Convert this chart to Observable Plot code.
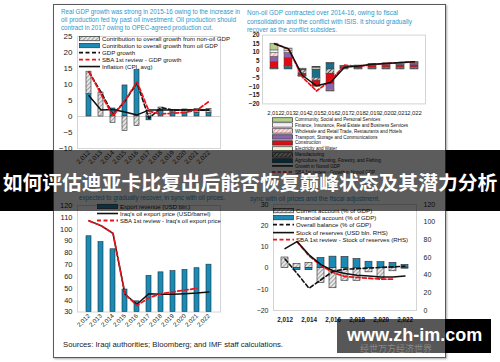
<!DOCTYPE html>
<html><head><meta charset="utf-8">
<script src="https://cdn.jsdelivr.net/npm/d3@7"></script>
<script src="https://cdn.jsdelivr.net/npm/@observablehq/plot@0.6"></script>
<style>
html,body{margin:0;padding:0;background:#fff;}
body{width:500px;height:362px;overflow:hidden;position:relative;font-family:"Liberation Sans",Arial,sans-serif;}
.t{position:absolute;white-space:nowrap;transform-origin:0 50%;color:#2f97c9;font-size:7px;line-height:8px;}
.lg{position:absolute;white-space:nowrap;display:flex;align-items:center;color:#111;}
.lg svg{flex:none;margin-right:2px;}
svg.plot{overflow:visible;background:transparent;}
</style></head>
<body>
<svg width="0" height="0" style="position:absolute">
<defs>
<pattern id="hatchGray" width="3" height="3" patternUnits="userSpaceOnUse" patternTransform="rotate(45)">
<rect width="3" height="3" fill="#e6e6e6"/><line x1="0" y1="0" x2="0" y2="3" stroke="#7a7a7a" stroke-width="1.3"/></pattern>
<pattern id="hatchPink" width="3" height="3" patternUnits="userSpaceOnUse" patternTransform="rotate(45)">
<rect width="3" height="3" fill="#fbe3e8"/><line x1="0" y1="0" x2="0" y2="3" stroke="#e46f86" stroke-width="1.2"/></pattern>
<pattern id="hatchDark" width="3" height="3" patternUnits="userSpaceOnUse" patternTransform="rotate(45)">
<rect width="3" height="3" fill="#cfcfcf"/><line x1="0" y1="0" x2="0" y2="3" stroke="#222" stroke-width="1.4"/></pattern>
</defs></svg>
<div id="root"></div>
<script>
// ---------- data ----------
const years = [2012, 2013, 2014, 2015, 2016, 2017, 2018, 2019, 2020, 2021, 2022];

// Panel 1: real GDP growth (percent)
const oilContrib    = [7.0, 0.0, 2.5, 9.7, 14.5, -1.2, 2.0, 1.3, 1.2, 1.2, 1.1];
const nonOilContrib = [7.0, 7.5, -2.0, -4.5, -3.0, 0.8, 0.8, 0.8, 1.0, 1.1, 1.3];
const gdpGrowth     = [13.9, 7.6, 0.7, 4.8, 10.5, -0.6, 2.8, 2.0, 2.0, 2.0, 2.0];
const sbaGdpGrowth  = [14.0, 7.0, 0.2, 5.0, 10.8, 1.6, 0.8, 1.0, 1.3, 2.0, 4.7];
const inflation     = [6.5, 2.0, 2.2, 1.4, 0.5, 2.0, 2.0, 2.0, 2.0, 2.0, 2.0];

// Panel 2: non-oil GDP growth contributions by sector
const sectorNames = [
  "Agriculture, Hunting, Forestry, and Fishing",
  "Manufacturing",
  "Electricity and Water",
  "Construction",
  "Transport, Storage and Communications",
  "Wholesale and Retail Trade, Restaurants and Hotels",
  "Finance, Insurance, Real Estate and Business Services",
  "Community, Social and Personal Services"
];
const agriculture   = [0.3, 1.5, -0.5, -5.0, 3.5, 0.4, 0.3, 0.4, 0.4, 0.4, 0.4];
const manufacturing = [0.3, 0.3, -2.0, -1.5, -2.5, 0.3, 0.3, 0.4, 0.5, 0.5, 0.5];
const electricity   = [0.2, 0.3, 0.3, 1.0, -0.3, 0.2, 0.2, 0.3, 0.3, 0.3, 0.3];
const construction  = [3.5, 4.5, -1.0, -3.0, -5.5, 0.5, 0.6, 0.8, 0.9, 1.0, 1.1];
const transport     = [3.0, 3.0, -0.3, -0.3, -3.5, 0.3, 0.3, 0.4, 0.5, 0.6, 0.7];
const wholesale     = [2.2, 1.4, -0.2, 0.3, -0.8, 0.2, 0.2, 0.3, 0.4, 0.4, 0.5];
const finance       = [1.6, 0.8, 0.2, 0.2, 0.2, 0.2, 0.3, 0.3, 0.4, 0.4, 0.5];
const community     = [3.9, 0.4, -0.3, -0.3, -0.2, 0.1, 0.1, 0.2, 0.2, 0.3, 0.4];
const nonOilGrowth    = [15.0, 12.0, -3.5, -9.5, -7.5, 1.3, 2.0, 3.0, 3.5, 4.0, 4.5];
const sbaNonOilGrowth = [15.0, 12.0, -4.5, -12.5, -6.5, 2.5, 1.8, 2.8, 3.5, 4.0, 4.5];

// Panel 3: exports
const exportRevenue = [94, 89, 83, 49, 39, 60.5, 63.5, 64.5, 65.5, 67, 70];
const oilPrice      = [107, 103, 96.5, 45, 36.5, 45.5, 45, 45, 45.5, 46, 47];
const sbaOilPrice   = [107, 103, 96.5, 45, 35.5, 42, 45.5, 47, 48.5, 50, null];

// Panel 4: external sector
const currentAccount   = [5.0, 2.0, 2.5, -7.0, -9.5, -6.0, -6.0, -2.0, -5.0, -1.5, -0.3];
const financialAccount = [0.0, -1.0, -1.0, 4.8, 5.4, 5.3, 4.3, 3.0, 2.8, 2.5, 1.5];
const overallBalance   = [4.3, -2.5, -9.5, -5.5, -1.5, -0.5, -0.3, 0.0, 0.3, 0.6, 0.9];
const reserves         = [70, 78, 63, 52, 45, 42, 40, 39, 38, 38, 39];
const sbaReserves      = [null, 78, 62, 51, 43, 38.5, 37.5, 36.5, 35.5, 35.5, null];

// ---------- helpers ----------
const root = document.getElementById("root");
function place(el, left, top, z) {
  el.style.position = "absolute"; el.style.left = left + "px"; el.style.top = top + "px";
  if (z) el.style.zIndex = z;
  root.appendChild(el); return el;
}
function textLine(str, left, cy, targetW, opts = {}) {
  const d = document.createElement("div");
  d.className = "t"; d.textContent = str;
  if (opts.color) d.style.color = opts.color;
  if (opts.size) d.style.fontSize = opts.size + "px";
  d.style.lineHeight = "8px";
  place(d, left, cy - 4, opts.z);
  if (targetW) { const w = d.getBoundingClientRect().width; d.style.transform = `scaleX(${targetW / w})`; }
  return d;
}
function swatch(it, w, h) {
  let s = `<svg width="${w}" height="${h}">`;
  if (it.kind === "rect") s += `<rect x="0.5" y="${h/2 - 2.2}" width="${w-1}" height="4.4" fill="${it.fill}" stroke="${it.stroke || '#333'}" stroke-width="0.7"/>`;
  else s += `<line x1="0" x2="${w}" y1="${h/2}" y2="${h/2}" stroke="${it.stroke}" stroke-width="${it.width || 1.6}" ${it.dash ? `stroke-dasharray="${it.dash}"` : ""}/>`;
  return s + "</svg>";
}
function legend(items, left, cy0, rowH, fontSize) {
  items.forEach((it, i) => {
    const d = document.createElement("div");
    d.className = "lg"; d.style.fontSize = fontSize + "px"; d.style.height = rowH + "px";
    d.innerHTML = swatch(it, 21, rowH) + `<span>${it.label}</span>`;
    place(d, left, cy0 + i * rowH - rowH / 2);
  });
}
const baseStyle = (fs) => ({fontFamily: "Liberation Sans, Arial, sans-serif", fontSize: fs + "px", color: "#222", background: "transparent", overflow: "visible"});

// ---------- Panel 1 ----------
const p1bars = years.flatMap((year, i) => [
  {year, part: "oil", value: oilContrib[i]},
  {year, part: "nonoil", value: nonOilContrib[i]}
]);
const p1 = years.map((year, i) => ({year, gdp: gdpGrowth[i], sba: sbaGdpGrowth[i], cpi: inflation[i]}));
const plot1 = Plot.plot({
  width: 185, height: 148, marginLeft: 24, marginRight: 18, marginTop: 6, marginBottom: 30,
  style: baseStyle(8),
  x: {type: "band", domain: years, padding: 0.55, label: null},
  y: {domain: [-10, 25], label: null},
  color: {type: "ordinal", domain: ["oil", "nonoil"], range: ["#1b8ab4", "url(#hatchGray)"]},
  marks: [
    Plot.frame({stroke: "#d4d4d4"}),
    Plot.ruleY([0], {stroke: "#cfcfcf"}),
    Plot.barY(p1bars, {x: "year", y: "value", fill: "part", stroke: "#2a2a2a", strokeWidth: 0.6}),
    Plot.lineY(p1, {x: "year", y: "cpi", stroke: "#111", strokeWidth: 1.5}),
    Plot.lineY(p1, {x: "year", y: "gdp", stroke: "#111", strokeWidth: 1.6, strokeDasharray: "4,2.5"}),
    Plot.lineY(p1, {x: "year", y: "sba", stroke: "#e8141c", strokeWidth: 1.8, strokeDasharray: "4,2.5"}),
    Plot.axisY({ticks: [-10, -5, 0, 5, 10, 15, 20, 25], tickSize: 0, tickPadding: 5, fontSize: 8, label: null}),
    Plot.axisX({tickRotate: -45, tickSize: 0, tickPadding: 3, fontSize: 6.5, label: null})
  ]
});
place(plot1, 53, 30);

// ---------- Panel 2 ----------
const sectorValues = [agriculture, manufacturing, electricity, construction, transport, wholesale, finance, community];
const sectorColors = ["#1d6e88", "url(#hatchDark)", "#eef3d6", "#e00b12", "#8b62ad", "url(#hatchPink)", "#f6eef4", "#b3cf8c"];
const p2bars = years.flatMap((year, i) => sectorNames.map((s, k) => ({year, sector: s, value: sectorValues[k][i]})));
const p2 = years.map((year, i) => ({year, g: nonOilGrowth[i], sba: sbaNonOilGrowth[i]}));
const plot2 = Plot.plot({
  width: 185, height: 92, marginLeft: 17, marginRight: 5, marginTop: 6.6, marginBottom: 16.6,
  style: baseStyle(6),
  x: {type: "band", domain: years, padding: 0.45, label: null},
  y: {domain: [-20, 20], label: null},
  color: {type: "ordinal", domain: sectorNames, range: sectorColors},
  marks: [
    Plot.frame({stroke: "#d4d4d4"}),
    Plot.barY(p2bars, {x: "year", y: "value", fill: "sector", stroke: "#444", strokeWidth: 0.5}),
    Plot.lineY(p2, {x: "year", y: "sba", stroke: "#e8141c", strokeWidth: 1.7, strokeDasharray: "3.5,2"}),
    Plot.lineY(p2, {x: "year", y: "g", stroke: "#111", strokeWidth: 1.5}),
    Plot.axisY({ticks: [-20, -15, -10, -5, 0, 5, 10, 15, 20], tickSize: 0, tickPadding: 3, fontSize: 6.3, fontWeight: "bold", label: null}),
    Plot.axisX({tickSize: 0, tickPadding: 7, fontSize: 5.9, label: null})
  ]
});
place(plot2, 245, 28);

// ---------- Panel 3 ----------
const p3 = years.map((year, i) => ({year, rev: exportRevenue[i], price: oilPrice[i], sba: sbaOilPrice[i]}));
const plot3 = Plot.plot({
  width: 185, height: 140, marginLeft: 24, marginRight: 18, marginTop: 6, marginBottom: 27.5,
  style: baseStyle(8),
  x: {type: "band", domain: years, padding: 0.55, label: null},
  y: {domain: [30, 120], label: null},
  marks: [
    Plot.frame({stroke: "#d4d4d4"}),
    Plot.barY(p3, {x: "year", y1: () => 30, y2: "rev", fill: "#1b8ab4", stroke: "#1a2f3a", strokeWidth: 0.6}),
    Plot.lineY(p3, {x: "year", y: "price", stroke: "#111", strokeWidth: 1.5}),
    Plot.lineY(p3.filter(d => d.sba != null), {x: "year", y: "sba", stroke: "#e8141c", strokeWidth: 1.7, strokeDasharray: "4,2.5"}),
    Plot.axisY({ticks: [30, 40, 50, 60, 70, 80, 90, 100, 110, 120], tickSize: 0, tickPadding: 5, fontSize: 7.5, label: null}),
    Plot.axisX({tickRotate: -45, tickSize: 0, tickPadding: 3, fontSize: 6.2, label: null})
  ]
});
place(plot3, 53, 199);

// ---------- Panel 4 ----------
const toLeft = r => -20 + r * 50 / 120;
const toRight = v => (v + 20) * 120 / 50;
const p4bars = years.flatMap((year, i) => [
  {year, part: "ca", value: currentAccount[i]},
  {year, part: "fa", value: financialAccount[i]}
]);
const p4 = years.map((year, i) => ({year, ob: overallBalance[i], res: reserves[i], sba: sbaReserves[i]}));
const plot4 = Plot.plot({
  width: 200, height: 130, marginLeft: 28, marginRight: 29, marginTop: 6, marginBottom: 18,
  style: baseStyle(7),
  x: {type: "band", domain: years, padding: 0.45, label: null},
  y: {domain: [-20, 30], label: null},
  color: {type: "ordinal", domain: ["ca", "fa"], range: ["url(#hatchGray)", "#1b8ab4"]},
  marks: [
    Plot.frame({stroke: "#d4d4d4"}),
    Plot.barY(p4bars, {x: "year", y: "value", fill: "part", stroke: "#2a2a2a", strokeWidth: 0.6}),
    Plot.lineY(p4.filter(d => d.sba != null), {x: "year", y: d => toLeft(d.sba), stroke: "#e8141c", strokeWidth: 1.8, strokeDasharray: "4,2.5"}),
    Plot.lineY(p4, {x: "year", y: d => toLeft(d.res), stroke: "#111", strokeWidth: 1.5}),
    Plot.lineY(p4, {x: "year", y: "ob", stroke: "#111", strokeWidth: 1.6, strokeDasharray: "4,2.5"}),
    Plot.axisY({ticks: [-20, -10, 0, 10, 20, 30], tickSize: 0, tickPadding: 5, fontSize: 7, label: null}),
    Plot.axisY({anchor: "right", ticks: [0, 20, 40, 60, 80, 100, 120].map(toLeft), tickFormat: v => Math.round(toRight(v)), tickSize: 0, tickPadding: 7, fontSize: 7, label: null}),
    Plot.axisX({ticks: [2012, 2014, 2016, 2018, 2020, 2022], tickSize: 0, tickPadding: 7, fontSize: 6.3, fontWeight: "bold", label: null})
  ]
});
place(plot4, 245, 198);

// ---------- titles ----------
textLine("Real GDP growth was strong in 2015-16 owing to the increase in", 61, 12, 179);
textLine("oil production fed by past oil investment. Oil production should", 61, 20, 175);
textLine("contract in 2017 owing to OPEC-agreed production cut.", 61, 28, 152);
textLine("Non-oil GDP contracted over 2014-16, owing to fiscal", 247, 13, 151);
textLine("consolidation and the conflict with ISIS. It should gradually", 247, 22, 165);
textLine("recover as the conflict subsides.", 247, 30, 90);
textLine("expected to gradually recover, in sync with oil prices.", 79, 197.5, 146);
textLine("sync with oil prices and the fiscal adjustment.", 250, 198.5, 130);
textLine("Sources: Iraqi authorities; Bloomberg; and IMF staff calculations.", 63, 345, 220, {color: "#222", size: 8});

// ---------- legends ----------
legend([
  {label: "Contribution to overall growth from non-oil GDP", kind: "rect", fill: "url(#hatchGray)"},
  {label: "Contribution to overall growth from oil GDP", kind: "rect", fill: "#1b8ab4"},
  {label: "GDP growth", kind: "line", stroke: "#111", dash: "4,2.5", width: 1.8},
  {label: "SBA 1st review - GDP growth", kind: "line", stroke: "#e8141c", dash: "4,2.5", width: 1.8},
  {label: "Inflation (CPI, avg)", kind: "line", stroke: "#111", width: 1.6}
], 79, 38.5, 7.1, 6.1);
legend([
  {label: sectorNames[7], kind: "rect", fill: sectorColors[7]},
  {label: sectorNames[6], kind: "rect", fill: sectorColors[6]},
  {label: sectorNames[5], kind: "rect", fill: sectorColors[5]},
  {label: sectorNames[4], kind: "rect", fill: sectorColors[4]},
  {label: sectorNames[3], kind: "rect", fill: sectorColors[3]},
  {label: sectorNames[2], kind: "rect", fill: sectorColors[2]},
  {label: sectorNames[1], kind: "rect", fill: sectorColors[1]},
  {label: sectorNames[0], kind: "rect", fill: sectorColors[0]},
  {label: "Growth in Nonoil GDP", kind: "line", stroke: "#111", width: 1.5},
  {label: "SBA 1st review - Growth in Nonoil GDP", kind: "line", stroke: "#e8141c", dash: "3.5,2", width: 1.5}
], 272, 119.5, 5.85, 4.6);
legend([
  {label: "Export revenue (USD bln.)", kind: "rect", fill: "#1b8ab4"},
  {label: "Iraq's oil export price (USD/barrel)", kind: "line", stroke: "#111", width: 1.6},
  {label: "SBA 1st review - Iraq's oil export price", kind: "line", stroke: "#e8141c", dash: "4,2.5", width: 1.8}
], 97, 206.5, 7, 6);
legend([
  {label: "Current account (% of GDP)", kind: "rect", fill: "url(#hatchGray)"},
  {label: "Financial account (% of GDP)", kind: "rect", fill: "#1b8ab4"},
  {label: "Overall balance (% of GDP)", kind: "line", stroke: "#111", dash: "4,2.5", width: 1.8},
  {label: "Stock of reserves (USD bln. RHS)", kind: "line", stroke: "#111", width: 1.6},
  {label: "SBA 1st review - Stock of reserves (RHS)", kind: "line", stroke: "#e8141c", dash: "4,2.5", width: 1.8}
], 273, 210.5, 7.2, 6.1);

// ---------- frame & overlays ----------
const frame = document.createElement("div");
frame.style.cssText = "width:391px;height:352px;border:1.5px solid #5a5a5a;box-shadow:1px 1px 2px rgba(0,0,0,0.35);pointer-events:none;";
place(frame, 52.5, 3.5, 5);

const band = document.createElement("div");
band.style.cssText = "width:500px;height:61px;background:rgba(0,0,0,0.64);";
place(band, 0, 150, 10);
const bl = document.createElement("div"); bl.style.cssText = "width:53px;height:61px;background:#000;"; place(bl, 0, 150, 11);
const br = document.createElement("div"); br.style.cssText = "width:54px;height:61px;background:#000;"; place(br, 446, 150, 11);

const title = document.createElement("div");
title.textContent = "如何评估迪亚卡比复出后能否恢复巅峰状态及其潜力分析";
title.style.cssText = "width:500px;text-align:center;white-space:nowrap;font-family:'Noto Sans CJK SC',sans-serif;font-weight:bold;font-size:19.8px;line-height:20px;color:#fff;";
place(title, 0, 172, 12);

const wm1 = document.createElement("div"); wm1.style.cssText = "width:108px;height:34px;background:rgba(0,0,0,0.66);"; place(wm1, 337, 319, 13);
const wm2 = document.createElement("div"); wm2.style.cssText = "width:46px;height:34px;background:#000;"; place(wm2, 445, 319, 13);
const wmt = document.createElement("div");
wmt.textContent = "www.zh-im.com";
wmt.style.cssText = "white-space:nowrap;font-family:'Liberation Sans',Arial,sans-serif;font-weight:bold;font-size:18px;line-height:18px;color:#fff;";
place(wmt, 347, 326, 14);
const wms = document.createElement("div");
wms.textContent = "经世万方经济世界";
wms.style.cssText = "white-space:nowrap;font-family:'Noto Sans CJK SC',sans-serif;font-size:9px;line-height:9px;color:rgba(150,150,150,0.8);";
place(wms, 360, 344, 14);
</script>
</body></html>
